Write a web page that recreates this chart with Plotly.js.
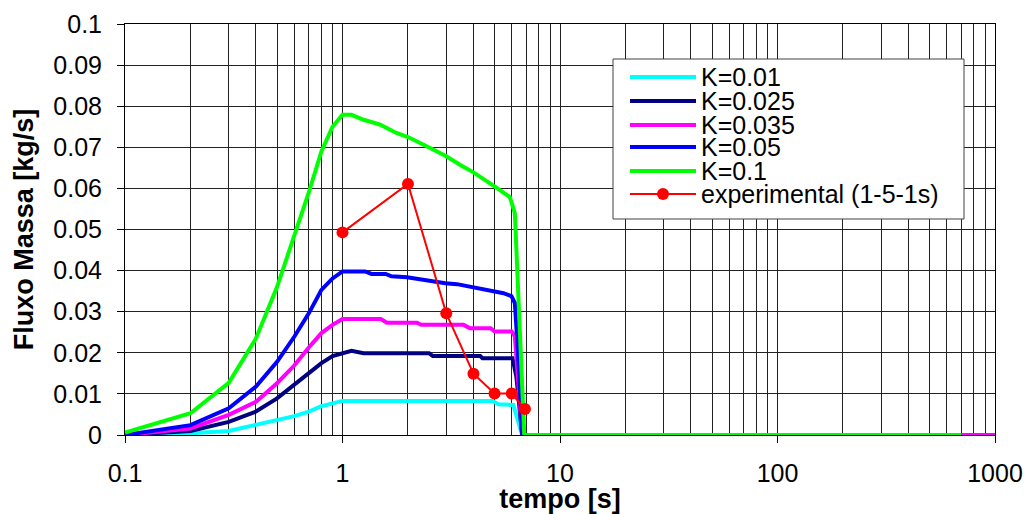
<!DOCTYPE html>
<html>
<head>
<meta charset="utf-8">
<script src="https://cdn.plot.ly/plotly-3.0.1.min.js"></script>
<style>
  html, body { margin: 0; padding: 0; background: #ffffff; }
  #chart { width: 1028px; height: 514px; }
</style>
</head>
<body>
<div id="chart"></div>
<script>
// Mass flow vs time for several loss coefficients K, plus the measured points
const tK001 = [0.1, 0.2, 0.3, 0.4, 0.5, 0.6, 0.7, 0.8, 0.9, 1.0, 4.9, 5.2, 6.1, 6.3, 6.7, 700];
const fK001 = [0, 0.0004, 0.001, 0.0024, 0.0035, 0.0046, 0.0057, 0.007, 0.0077, 0.0083, 0.0083, 0.0075, 0.0073, 0.0045, 0, 0];

const tK0025 = [0.1, 0.2, 0.3, 0.4, 0.5, 0.6, 0.7, 0.8, 0.9, 1.0, 1.1, 1.25, 2.5, 2.6, 4.3, 4.4, 6.05, 6.3, 6.7, 700];
const fK0025 = [0, 0.001, 0.0032, 0.0057, 0.0089, 0.0122, 0.015, 0.0175, 0.0192, 0.0199, 0.0205, 0.0199, 0.0199, 0.0192, 0.0192, 0.0187, 0.0187, 0.0142, 0, 0];

const tK0035 = [0.1, 0.2, 0.3, 0.4, 0.5, 0.6, 0.7, 0.8, 0.9, 1.0, 1.5, 1.6, 2.2, 2.3, 3.6, 3.85, 4.8, 5.0, 6.0, 6.2, 6.7, 1100];
const fK0035 = [0, 0.0016, 0.0049, 0.0081, 0.0126, 0.0169, 0.0213, 0.0248, 0.0268, 0.0282, 0.0282, 0.0273, 0.0273, 0.0268, 0.0268, 0.026, 0.026, 0.0252, 0.0252, 0.024, 0, 0];

const tK005 = [0.1, 0.2, 0.3, 0.4, 0.5, 0.6, 0.7, 0.8, 0.9, 1.0, 1.27, 1.36, 1.58, 1.68, 1.98, 2.26, 2.44, 2.71, 2.97, 3.36, 3.86, 4.21, 4.6, 5.1, 5.5, 5.98, 6.2, 6.4, 6.7, 700];
const fK005 = [0, 0.0024, 0.0065, 0.0118, 0.0178, 0.0239, 0.0296, 0.0353, 0.0381, 0.0398, 0.0398, 0.0392, 0.0392, 0.0386, 0.0384, 0.0379, 0.0375, 0.0373, 0.0369, 0.0367, 0.0361, 0.0357, 0.0353, 0.0349, 0.0345, 0.0338, 0.0321, 0.0207, 0, 0];

const tK01 = [0.1, 0.2, 0.3, 0.4, 0.5, 0.6, 0.7, 0.8, 0.9, 1.0, 1.1, 1.25, 1.49, 1.77, 2.0, 2.45, 3.0, 3.48, 4.0, 5.0, 5.88, 6.2, 6.85, 700];
const fK01 = [0.0006, 0.0053, 0.0127, 0.0235, 0.036, 0.0486, 0.059, 0.069, 0.075, 0.0779, 0.0779, 0.0767, 0.0755, 0.0735, 0.0725, 0.0702, 0.0678, 0.0657, 0.0639, 0.0605, 0.0579, 0.054, 0, 0];

const tExp = [1, 2, 3, 4, 5, 6, 6.9];
const fExp = [0.0493, 0.0611, 0.0296, 0.0149, 0.0101, 0.0101, 0.0063];

const seriesNames = ['K=0.01', 'K=0.025', 'K=0.035', 'K=0.05', 'K=0.1', 'experimental (1-5-1s)'];
const seriesColors = ['#00FFFF', '#000080', '#FF00FF', '#0000FF', '#00FF00', '#FF0000'];

const xTickVals = [0.1, 1, 10, 100, 1000];
const xTickText = ['0.1', '1', '10', '100', '1000'];
const yTickVals = [0, 0.01, 0.02, 0.03, 0.04, 0.05, 0.06, 0.07, 0.08, 0.09, 0.1];
const yTickText = ['0', '0.01', '0.02', '0.03', '0.04', '0.05', '0.06', '0.07', '0.08', '0.09', '0.1'];

const FONT = '"Liberation Sans", Arial, sans-serif';

// plot-area geometry (pixels) used to place the key box in paper coordinates
const W = 1028, H = 514;
const M = { l: 125, r: 33, t: 24, b: 79 };
const plotW = W - M.l - M.r, plotH = H - M.t - M.b;
const px = v => (v - M.l) / plotW;
const py = v => (H - M.b - v) / plotH;

function simLine(x, y, i) {
  return { x: x, y: y, name: seriesNames[i], type: 'scatter', mode: 'lines',
           line: { color: seriesColors[i], width: 4 }, showlegend: false };
}

const traces = [
  simLine(tK001, fK001, 0),
  simLine(tK0025, fK0025, 1),
  simLine(tK0035, fK0035, 2),
  simLine(tK005, fK005, 3),
  simLine(tK01, fK01, 4),
  { x: tExp, y: fExp, name: seriesNames[5], type: 'scatter', mode: 'lines+markers',
    line: { color: seriesColors[5], width: 2 },
    marker: { color: seriesColors[5], size: 12 }, cliponaxis: false, showlegend: false }
];

// key: framed box with a sample line and label per series
const keyBox = { x0: 613, x1: 964, y0: 59, y1: 219 };
const keyRows = [77, 101, 125, 147, 171, 194];
const keySample = { x0: 630, x1: 696 };
const keyTextX = 700;

const shapes = [{
  type: 'rect', xref: 'paper', yref: 'paper', layer: 'above',
  x0: px(keyBox.x0), x1: px(keyBox.x1), y0: py(keyBox.y1), y1: py(keyBox.y0),
  fillcolor: '#ffffff', line: { color: '#404040', width: 1 }
}];
const annotations = [];
seriesNames.forEach((name, i) => {
  const isExp = i === 5;
  shapes.push({
    type: 'line', xref: 'paper', yref: 'paper', layer: 'above',
    x0: px(keySample.x0), x1: px(keySample.x1), y0: py(keyRows[i]), y1: py(keyRows[i]),
    line: { color: seriesColors[i], width: isExp ? 2 : 4 }
  });
  if (isExp) {
    const cx = (keySample.x0 + keySample.x1) / 2;
    shapes.push({
      type: 'circle', xref: 'paper', yref: 'paper', layer: 'above',
      x0: px(cx - 6), x1: px(cx + 6), y0: py(keyRows[i] + 6), y1: py(keyRows[i] - 6),
      fillcolor: seriesColors[i], line: { color: seriesColors[i], width: 0 }
    });
  }
  annotations.push({
    text: name, xref: 'paper', yref: 'paper', showarrow: false,
    x: px(keyTextX), y: py(keyRows[i]), xanchor: 'left', yanchor: 'middle',
    borderpad: 0,
    font: { family: FONT, size: 25, color: '#000000' }
  });
});

const gridCol = '#222222';

const layout = {
  width: W, height: H,
  margin: { l: M.l, r: M.r, t: M.t, b: M.b, pad: 0 },
  paper_bgcolor: '#ffffff', plot_bgcolor: '#ffffff',
  font: { family: FONT, size: 25, color: '#000000' },
  showlegend: false,
  shapes: shapes,
  annotations: annotations,
  xaxis: {
    type: 'log', range: [-1, 3],
    tickmode: 'array', tickvals: xTickVals, ticktext: xTickText,
    ticks: 'outside', ticklen: 7, tickcolor: '#000000', tickwidth: 1,
    ticklabelstandoff: 9,
    showgrid: true, gridcolor: gridCol, gridwidth: 1,
    minor: { dtick: 'D1', showgrid: true, gridcolor: gridCol, gridwidth: 1, ticks: '' },
    showline: true, linecolor: '#000000', linewidth: 1, mirror: true,
    zeroline: false,
    tickfont: { family: FONT, size: 25, color: '#000000' },
    title: { text: 'tempo [s]', font: { family: FONT, size: 27, color: '#000000', weight: 'bold' }, standoff: 2 }
  },
  yaxis: {
    range: [0, 0.1],
    tickmode: 'array', tickvals: yTickVals, ticktext: yTickText,
    ticks: 'outside', ticklen: 7, tickcolor: '#000000', tickwidth: 1,
    ticklabelstandoff: 10,
    showgrid: true, gridcolor: gridCol, gridwidth: 1,
    showline: true, linecolor: '#000000', linewidth: 1, mirror: true,
    zeroline: false,
    tickfont: { family: FONT, size: 25, color: '#000000' },
    title: { text: 'Fluxo Massa [kg/s]', font: { family: FONT, size: 27, color: '#000000', weight: 'bold' }, standoff: 11 }
  }
};

Plotly.newPlot('chart', traces, layout, { displayModeBar: false, staticPlot: true });
</script>
</body>
</html>
